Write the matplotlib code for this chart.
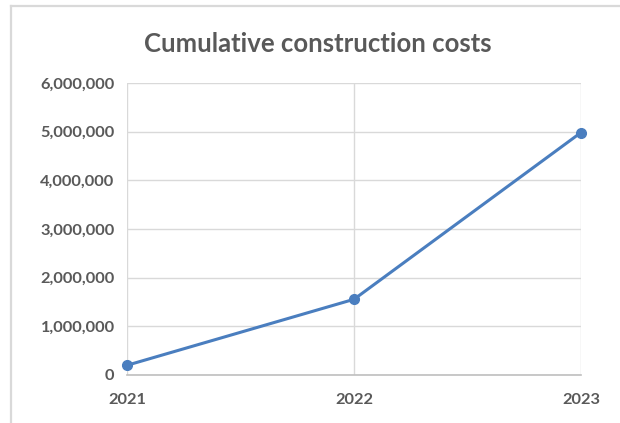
import matplotlib.pyplot as plt
from matplotlib.lines import Line2D
from matplotlib.ticker import FuncFormatter

# Data
years = ['2021', '2022', '2023']
costs = [200000, 1555000, 4980000]
y_ticks = [0, 1000000, 2000000, 3000000, 4000000, 5000000, 6000000]

plt.rcParams['font.family'] = ['Lato', 'DejaVu Sans']

fig = plt.figure(figsize=(6.2, 4.23), dpi=100)
ax = fig.add_axes([0.205, 0.1135, 0.732, 0.6905])

x = list(range(len(years)))
ax.plot(x, costs, color='#4a7ebf', linewidth=2.2, marker='o', markersize=7, zorder=3, clip_on=False)

ax.set_xlim(0, len(years) - 1)
ax.set_ylim(0, 6000000)
ax.set_xticks(x)
ax.set_xticklabels(years)
ax.set_yticks(y_ticks)
ax.yaxis.set_major_formatter(FuncFormatter(lambda v, p: f'{int(v):,}'))

ax.grid(True, color='#d9d9d9', linewidth=1)
ax.set_axisbelow(True)
for s in ['left', 'right', 'top']:
    ax.spines[s].set_visible(False)
ax.spines['bottom'].set_color('#bfbfbf')
ax.spines['bottom'].set_linewidth(1.2)
ax.tick_params(length=0, labelsize=11.8, labelcolor='#595959', pad=9)
for lbl in ax.get_xticklabels() + ax.get_yticklabels():
    lbl.set_fontweight('bold')
ax.tick_params(axis='x', pad=13)

fig.text(0.512, 0.895, 'Cumulative construction costs', ha='center', va='center',
         fontsize=18.5, fontweight='bold', color='#595959')

# chart frame: only left and top edges are visible in the crop
fx = 10.5 / 620
fy = (423 - 6.5) / 423
fig.add_artist(Line2D([fx, fx], [0, fy], transform=fig.transFigure, color='#d9d9d9', linewidth=1.6))
fig.add_artist(Line2D([fx, 1], [fy, fy], transform=fig.transFigure, color='#d9d9d9', linewidth=1.6))

fig.savefig('out.png', dpi=100)
